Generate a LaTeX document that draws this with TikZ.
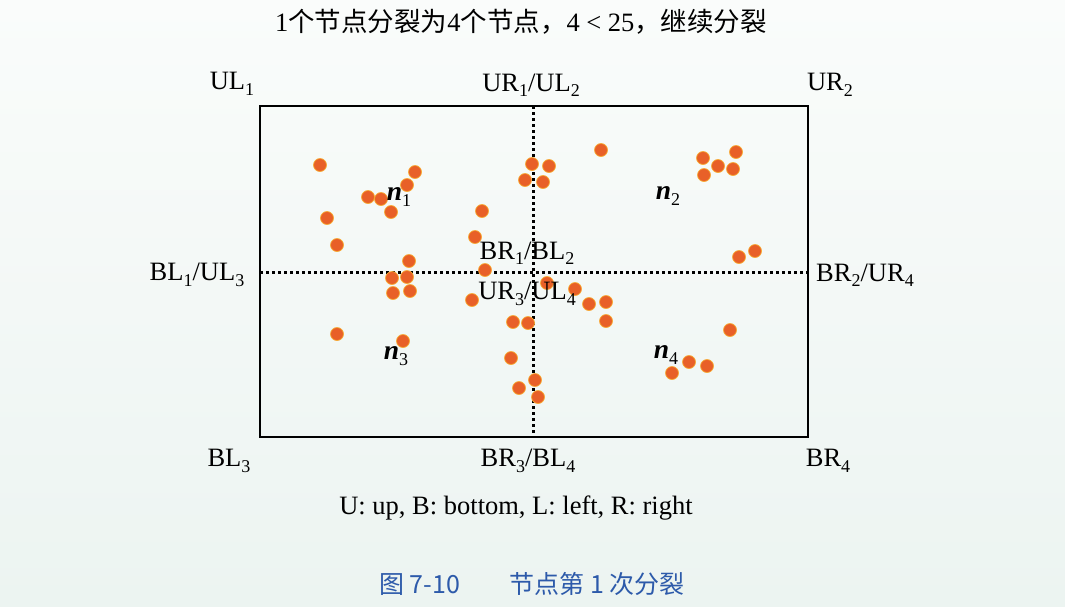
\documentclass[tikz,border=0pt]{standalone}
\usepackage{fontspec}
\setmainfont{Liberation Serif}
\newfontfamily\cjk{Noto Sans CJK SC}
\usepackage{xcolor}
\usepackage{tikz}
\usetikzlibrary{positioning}
\definecolor{dotorange}{RGB}{232,96,40}
\definecolor{dotrim}{RGB}{248,170,50}
\definecolor{capblue}{RGB}{45,90,170}
\definecolor{paper}{RGB}{250,252,251}
\definecolor{papertint}{RGB}{236,244,241}
\newcommand{\lo}[1]{\raisebox{-0.45ex}{\fontsize{18}{20}\selectfont\normalfont #1}}
\tikzset{
  frame/.style   ={draw, line width=2.9pt},
  divider/.style ={line width=3pt, dash pattern=on 2.8pt off 3.2pt},
  pt/.style      ={circle, fill=dotorange, draw=dotrim, line width=0.7pt, minimum size=13pt, inner sep=0pt},
  lbl/.style     ={font=\fontsize{26.5}{30}\selectfont, inner sep=1pt},
  nlbl/.style    ={font=\fontsize{27.5}{30}\selectfont\bfseries\itshape, inner sep=1pt},
}

\begin{document}
\begin{tikzpicture}[x=1pt, y=-1pt]
  \shade[top color=paper, bottom color=papertint] (0,0) rectangle (1065,606);
  \useasboundingbox (0,0) rectangle (1065,606);

  \node[font=\fontsize{26.5}{30}\selectfont] (title) at (521,22) {1{\cjk 个节点分裂为}4{\cjk 个节点，}4 < 25{\cjk ，继续分裂}};

  % quadrant frame and split lines
  \coordinate (nw) at (260,106);
  \coordinate (se) at (808,437);
  \coordinate (top)   at (533,106);
  \coordinate (bot)   at (533,437);
  \coordinate (left)  at (260,272);
  \coordinate (right) at (808,272);
  \draw[divider] (top) -- (bot);
  \draw[divider] (left) -- (right);
  \draw[frame] (nw) rectangle (se);

  % points
  \foreach \x/\y [count=\i] in {320/165,415/172,407/185,368/197,381/199,391/212,327/218,337/245,482/211,475/237,409/261,485/270,532/164,525/180,
      549/166,543/182,601/150,703/158,736/152,718/166,733/169,704/175,739/257,755/251,
      392/278,407/277,393/293,410/291,337/334,403/341,472/300,513/322,528/323,511/358,519/388,535/380,538/397,
      547/283,575/289,589/304,606/302,606/321,730/330,672/373,689/362,707/366}
    \node[pt] (p\i) at (\x,\y) {};

  % corner labels
  \node[lbl] (ul1) at (232,84)  {UL\lo{1}};
  \node[lbl] (ur1) at (531,85)  {UR\lo{1}/UL\lo{2}};
  \node[lbl] (ur2) at (830,85)  {UR\lo{2}};
  \node[lbl] (bl1) at (197,275) {BL\lo{1}/UL\lo{3}};
  \node[lbl] (br2) at (865,275) {BR\lo{2}/UR\lo{4}};
  \node[lbl] (bl3) at (229,461) {BL\lo{3}};
  \node[lbl] (br3) at (528,461) {BR\lo{3}/BL\lo{4}};
  \node[lbl] (br4) at (828,461) {BR\lo{4}};
  \node[lbl] (br1) at (527,253) {BR\lo{1}/BL\lo{2}};
  \node[lbl] (ur3) at (527,294) {UR\lo{3}/UL\lo{4}};

  \node[nlbl] (n1) at (399,197) {n\lo{1}};
  \node[nlbl] (n2) at (668,196) {n\lo{2}};
  \node[nlbl] (n3) at (396,356) {n\lo{3}};
  \node[nlbl] (n4) at (666,355) {n\lo{4}};

  \node[lbl] (key) at (516,508) {U: up, B: bottom, L: left, R: right};
  \node[font=\fontsize{25}{29}\selectfont\cjk, text=capblue] (cap) at (532,584) {图 7-10\qquad 节点第 1 次分裂};
\end{tikzpicture}
\end{document}
